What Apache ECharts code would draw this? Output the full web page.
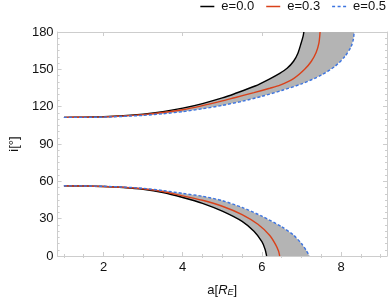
<!DOCTYPE html>
<html>
<head>
<meta charset="utf-8">
<script src="https://cdn.jsdelivr.net/npm/echarts@6/dist/echarts.min.js"></script>
<style>
html,body{margin:0;padding:0;background:#fff;}
#c{width:389px;height:302px;}
</style>
</head>
<body>
<div id="c"></div>
<script>
// ---- data ----
var seriesNames = ['e=0.0', 'e=0.3', 'e=0.5'];

// upper branch [a, i]
var upperE00 = [[1.0,111.4],[1.5,111.5],[2.0,111.9],[2.5,112.7],[3.0,114.0],[3.5,116.0],[4.0,118.8],[4.5,122.5],[5.0,127.0],[5.31,130.4],[5.83,136.6],[6.2,142.4],[6.45,146.8],[6.63,150.6],[6.8,156.5],[6.91,163.0],[6.99,171.0],[7.04,176.5],[7.06,180.0]];
var upperE03 = [[1.0,111.4],[1.5,111.5],[2.0,111.8],[2.5,112.5],[3.0,113.6],[3.5,115.3],[4.0,117.5],[4.5,120.8],[5.0,124.6],[5.31,127.2],[5.8,131.3],[6.2,134.8],[6.46,137.3],[6.8,142.5],[7.08,150.0],[7.25,156.5],[7.37,163.5],[7.44,171.0],[7.47,180.0]];
var upperE05 = [[1.0,111.4],[1.5,111.4],[2.0,111.6],[2.5,112.2],[3.0,113.0],[3.5,114.3],[4.0,116.0],[4.5,118.3],[5.0,121.0],[5.5,124.3],[6.0,128.3],[6.5,133.0],[7.0,138.3],[7.5,145.3],[7.85,152.5],[8.1,160.5],[8.25,168.0],[8.31,174.0],[8.33,180.0]];

// lower branch [a, i]
var lowerE00 = [[1.0,56.4],[1.5,56.2],[2.0,55.8],[2.5,55.0],[3.0,53.6],[3.5,51.0],[4.0,47.0],[4.5,42.3],[5.0,36.0],[5.5,27.8],[5.8,19.8],[6.0,11.5],[6.08,5.5],[6.12,0.0]];
var lowerE03 = [[1.0,56.4],[1.5,56.2],[2.0,55.9],[2.5,55.2],[3.0,54.0],[3.5,51.8],[4.0,48.3],[4.5,44.8],[5.0,40.0],[5.5,33.3],[5.9,25.5],[6.2,16.5],[6.35,9.0],[6.42,4.0],[6.45,0.0]];
var lowerE05 = [[1.0,56.4],[1.5,56.3],[2.0,56.0],[2.5,55.4],[3.0,54.4],[3.5,52.6],[4.0,50.3],[4.5,48.0],[5.0,44.5],[5.5,39.0],[6.0,32.0],[6.5,23.5],[6.8,16.8],[7.0,10.0],[7.12,4.5],[7.2,0.0]];

// ticks
var xMajor = [2, 4, 6, 8];
var xMinor = [1, 1.5, 2.5, 3, 3.5, 4.5, 5, 5.5, 6.5, 7, 7.5, 8.5, 9];
var yMajor = [0, 30, 60, 90, 120, 150, 180];
var yMinor = [5,10,15,20,25,35,40,45,50,55,65,70,75,80,85,95,100,105,110,115,125,130,135,140,145,155,160,165,170,175];

var colors = ['#000000', '#d9411a', '#3c74e0'];
var frameColor = '#cdcdcd';
var FONT = 'Liberation Sans, Arial, sans-serif';

// polygons for shaded band (black curve forward, blue curve back)
var bands = [
  upperE00.concat(upperE05.slice().reverse()),
  lowerE00.concat(lowerE05.slice().reverse())
];

function xAx(pos, ticks, len, showLabel, extra) {
  var o = {
    type: 'value', min: 0.84, max: 9.16, position: pos,
    axisLine: {show: true, onZero: false, lineStyle: {color: frameColor, width: 1}},
    axisTick: {show: true, inside: true, length: len, customValues: ticks, lineStyle: {color: frameColor}},
    axisLabel: showLabel ? {show: true, customValues: ticks, fontSize: 13, color: '#111', fontFamily: FONT, margin: 5} : {show: false},
    splitLine: {show: false}
  };
  for (var k in extra) o[k] = extra[k];
  return o;
}
function yAx(pos, ticks, len, showLabel, extra) {
  var o = {
    type: 'value', min: 0, max: 180, position: pos,
    axisLine: {show: true, onZero: false, lineStyle: {color: frameColor, width: 1}},
    axisTick: {show: true, inside: true, length: len, customValues: ticks, lineStyle: {color: frameColor}},
    axisLabel: showLabel ? {show: true, customValues: ticks, fontSize: 13, color: '#111', fontFamily: FONT, margin: 4} : {show: false},
    splitLine: {show: false}
  };
  for (var k in extra) o[k] = extra[k];
  return o;
}

var chart = echarts.init(document.getElementById('c'), null, {renderer: 'canvas'});

function lineSeries(name, data, color, dashed) {
  return {
    name: name, type: 'line', data: data, xAxisIndex: 0, yAxisIndex: 0,
    showSymbol: false, symbol: 'none', smooth: 0.25, z: 3,
    lineStyle: {color: color, width: 1.4, type: dashed ? [3, 2] : 'solid'},
    itemStyle: {color: color},
    emphasis: {disabled: true}, animation: false
  };
}

var solidIcon = 'path://M0,0h14v1.5h-14z';
var dashIcon = 'path://M0,0h3v1.5h-3zM5.5,0h3v1.5h-3zM11,0h3v1.5h-3z';

var option = {
  animation: false,
  backgroundColor: '#ffffff',
  grid: {left: 49, right: 2, top: 32, bottom: 45, containLabel: false},
  legend: {
    data: [
      {name: seriesNames[0], icon: solidIcon, itemStyle: {color: colors[0]}},
      {name: seriesNames[1], icon: solidIcon, itemStyle: {color: colors[1]}},
      {name: seriesNames[2], icon: dashIcon, itemStyle: {color: colors[2]}}
    ],
    right: 3, top: 0, itemWidth: 14, itemHeight: 1.5, itemGap: 12,
    padding: [0, 0, 0, 0],
    textStyle: {fontSize: 13, color: '#111', fontFamily: FONT, padding: [0, 0, 0, 2], lineHeight: 13}
  },
  xAxis: [
    xAx('bottom', xMajor, 4, true, {
      name: 'a[{it|R}{sub|E}]', nameLocation: 'middle', nameGap: 27,
      nameTextStyle: {fontSize: 13, color: '#111', fontFamily: FONT,
        rich: {
          it: {fontSize: 13, fontStyle: 'italic', color: '#111', fontFamily: FONT},
          sub: {fontSize: 9, fontStyle: 'italic', color: '#111', fontFamily: FONT, verticalAlign: 'bottom', padding: [5, 0, 0, 0]}
        }}
    }),
    xAx('bottom', xMinor, 2, false, {axisLine: {show: false}}),
    xAx('top', xMajor, 4, false, {}),
    xAx('top', xMinor, 2, false, {axisLine: {show: false}})
  ],
  yAxis: [
    yAx('left', yMajor, 4, true, {
      name: 'i[°]', nameLocation: 'middle', nameGap: 35,
      nameTextStyle: {fontSize: 13, color: '#111', fontFamily: FONT}
    }),
    yAx('left', yMinor, 2, false, {axisLine: {show: false}}),
    yAx('right', yMajor, 4, false, {}),
    yAx('right', yMinor, 2, false, {axisLine: {show: false}})
  ],
  series: [
    {
      type: 'custom', xAxisIndex: 0, yAxisIndex: 0, z: 1, silent: true,
      data: [[1, 111], [1, 56]],
      clip: true,
      renderItem: function (params, api) {
        var pts = bands[params.dataIndex].map(function (p) { return api.coord(p); });
        return {type: 'polygon', shape: {points: pts}, style: {fill: '#b4b4b4', stroke: null}};
      }
    },
    lineSeries('e=0.0', upperE00, colors[0], false),
    lineSeries('e=0.3', upperE03, colors[1], false),
    lineSeries('e=0.5', upperE05, colors[2], true),
    lineSeries('e=0.0', lowerE00, colors[0], false),
    lineSeries('e=0.3', lowerE03, colors[1], false),
    lineSeries('e=0.5', lowerE05, colors[2], true)
  ]
};
chart.setOption(option);
</script>
</body>
</html>
